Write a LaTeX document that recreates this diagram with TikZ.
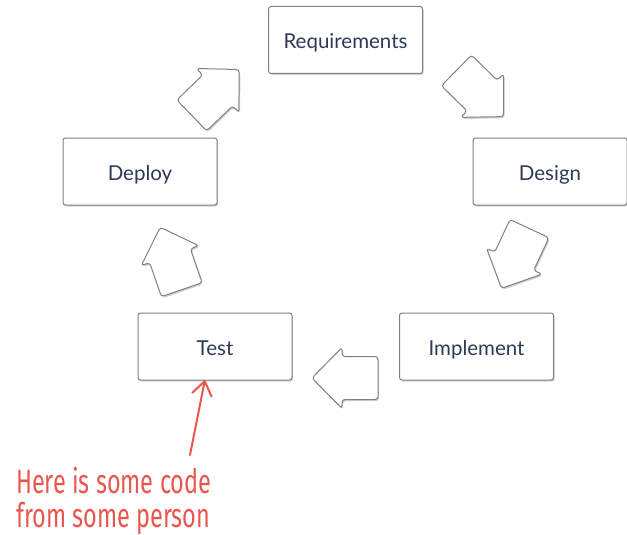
\documentclass[tikz,border=0pt]{standalone}
\usepackage{fontspec}
\setmainfont{Lato}
\newfontfamily\handfont{Fira Sans}
\usetikzlibrary{shadows,arrows.meta}
\definecolor{boxtext}{HTML}{2E3A55}
\definecolor{boxline}{HTML}{808080}
\definecolor{notered}{HTML}{E8574F}
\tikzset{
  softshadow/.style={drop shadow={shadow xshift=1.2pt, shadow yshift=-1.6pt, opacity=0.18, fill=black}},
  stage/.style={draw=boxline, line width=1pt, rounded corners=2.5pt, fill=white,
    minimum width=154pt, minimum height=67pt, inner sep=0pt, text=boxtext,
    text height=19pt, text depth=2pt,
    font=\fontsize{20.5}{24}\selectfont, softshadow},
  flowarrow/.style={draw=boxline, line width=1pt, rounded corners=3pt, fill=white, softshadow},
  notepen/.style={draw=notered, line width=2pt, line cap=round, line join=round},
}
% block arrow centred at (#1,#2), pointing in direction #3
\newcommand\blockarrow[3]{%
  \begin{scope}[shift={(#1,#2)}, rotate=#3]
    \draw[flowarrow] (-33,-21.5) -- (3,-21.5) -- (3,-30.5) -- (33,0)
      -- (3,30.5) -- (3,21.5) -- (-33,21.5) -- cycle;
  \end{scope}}
\begin{document}
\begin{tikzpicture}[x=1pt,y=-1pt]
  \useasboundingbox (0,0) rectangle (627,535);

  % stages of the cycle
  \node[stage] (req)  at (345.5,40)  {Requirements};
  \node[stage] (des)  at (550,171.5) {Design};
  \node[stage] (imp)  at (476.5,346.5) {Implement};
  \node[stage] (test) at (215,346.5) {Test};
  \node[stage] (dep)  at (140,171.5) {Deploy};

  % block arrows between the stages
  \blockarrow{215.5}{92.5}{44}
  \blockarrow{480}{93.5}{-44.5}
  \blockarrow{515.5}{258.5}{-115}
  \blockarrow{345}{378}{180}
  \blockarrow{171}{258.5}{109}

  % handwritten note
  \node[font=\handfont\fontsize{27}{27}\selectfont, text=notered, align=left,
        anchor=north west, inner sep=0pt, xscale=0.87, yscale=1.25, transform shape]
        (note) at (16,467) {Here is some code\\from some person};
  \coordinate (tail) at (190,455);
  \draw[notepen, -{Straight Barb[length=14pt,width=20pt,line width=2pt]}]
    (tail) -- ([xshift=-10pt,yshift=1pt]test.south);
\end{tikzpicture}
\end{document}
